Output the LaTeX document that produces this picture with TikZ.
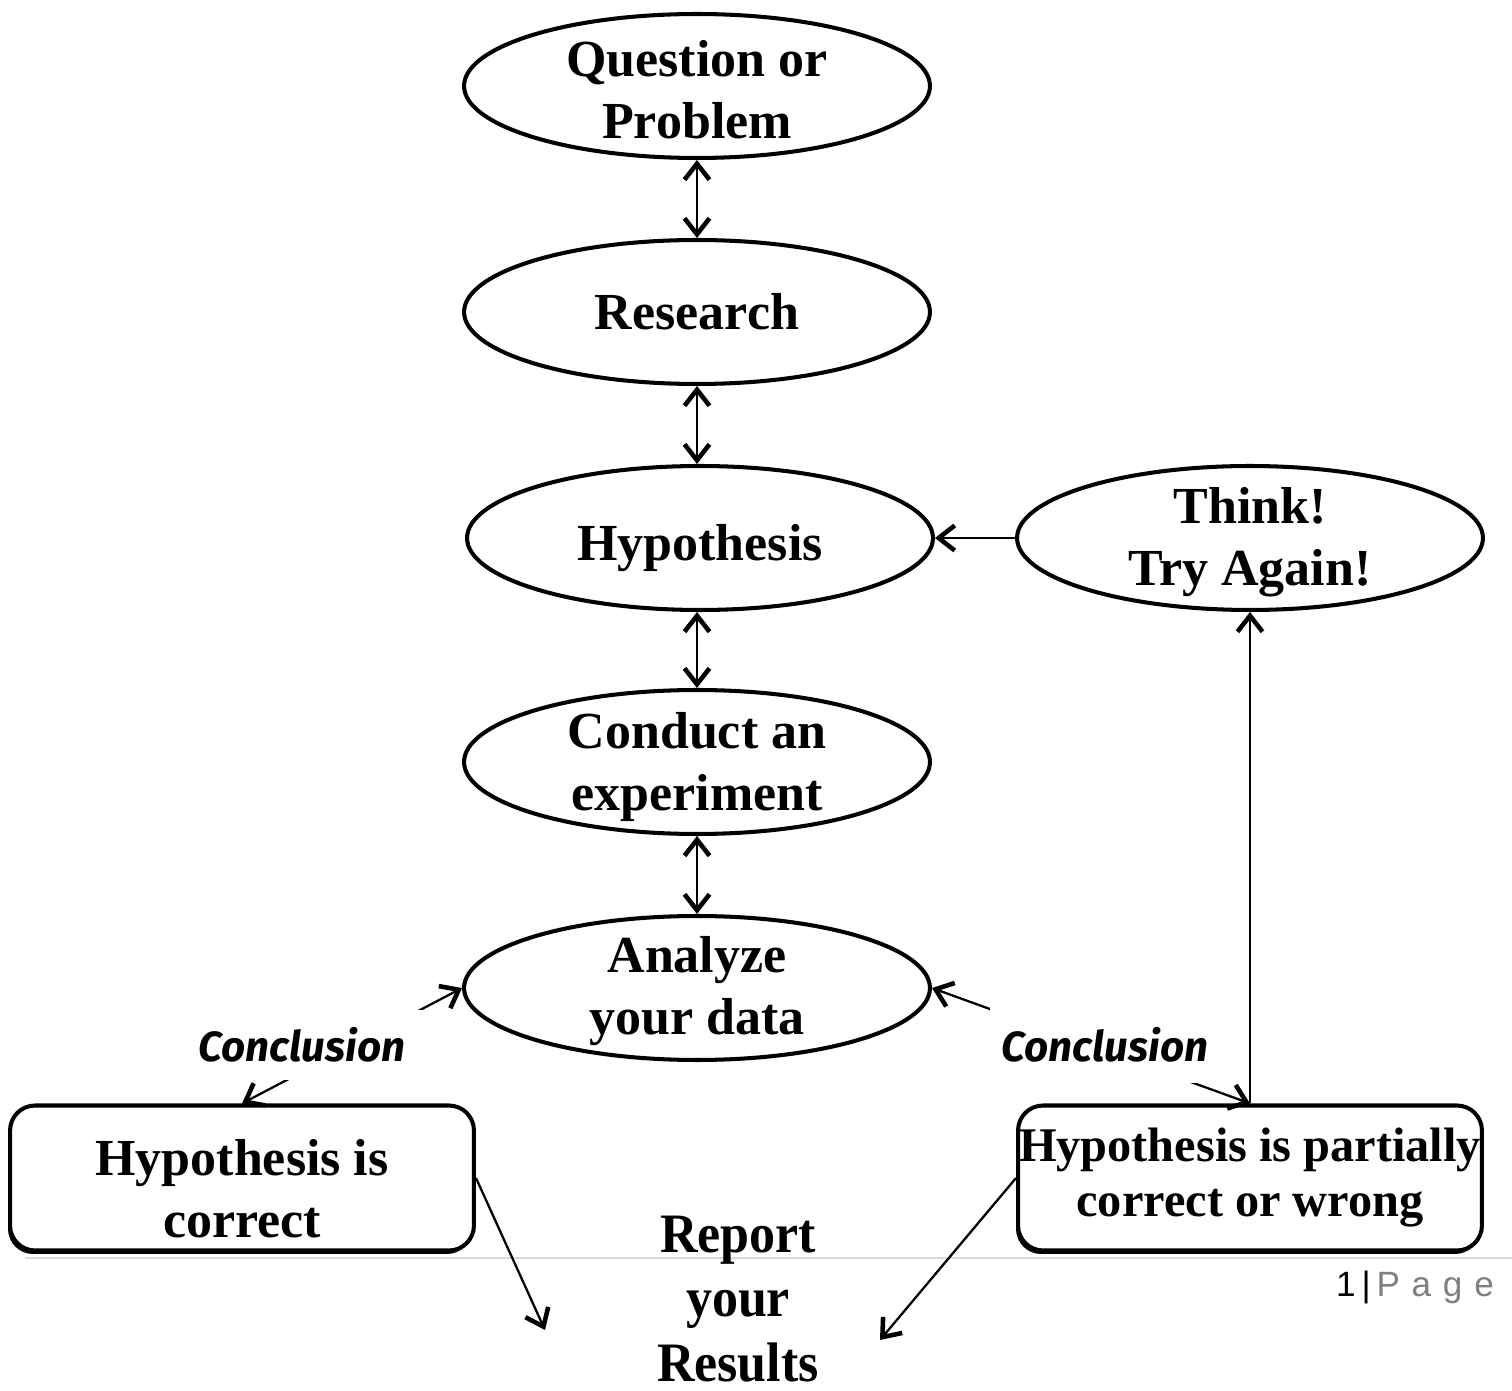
\documentclass[tikz,border=0pt]{standalone}
\usepackage{fontspec}
\setmainfont{Liberation Serif}
\newfontfamily\concfont{Fira Sans}
\newfontfamily\pagefont{Liberation Sans}
\usetikzlibrary{shapes.geometric,arrows.meta,shadows}
\newcommand\twoline[2]{\raisebox{#1}[0pt][0pt]{\parbox{6.2cm}{\centering #2}}}
\newcommand\oneline[2]{\raisebox{#1}[0pt][0pt]{#2}}
\begin{document}
\begin{tikzpicture}[x=0.02cm,y=-0.02cm,
  bubble/.style={ellipse,draw,line width=2.3pt,fill=white,inner sep=0pt,
    minimum width=9.32cm,minimum height=2.88cm,align=center,
    font=\bfseries\fontsize{29.6}{35.3}\selectfont},
  resbox/.style={rectangle,rounded corners=0.5cm,draw,line width=2.3pt,fill=white,
    minimum width=9.28cm,minimum height=2.9cm,align=center,
    drop shadow={shadow xshift=-0.04cm,shadow yshift=-0.07cm,fill=black,opacity=1},
    font=\bfseries\fontsize{29.6}{35.3}\selectfont},
  tip/.tip={Straight Barb[length=0.32cm,width=0.5cm,line width=2.6pt]},
  link/.style={line width=1.3pt,tip-tip},
  onelink/.style={line width=1.3pt,-tip},
  conc/.style={fill=white,inner sep=0pt,font=\concfont\bfseries\itshape\fontsize{24}{28}\selectfont}
]
\useasboundingbox (0,0) rectangle (1512,1391);
\draw[gray!30,line width=1.2pt] (25,1258) -- (1512,1258);

\node[bubble] (q) at (697,86) {\twoline{-0.3cm}{Question or\\Problem}};
\node[bubble] (r) at (697,312) {Research};
\node[bubble] (h) at (700,538) {\oneline{-0.45cm}{Hypothesis}};
\node[bubble] (c) at (697,762) {\twoline{-0.32cm}{Conduct an\\experiment}};
\node[bubble] (a) at (697,988) {\twoline{-0.28cm}{Analyze\\your data}};
\node[bubble] (t) at (1250,538) {\twoline{-0.31cm}{Think!\\Try Again!}};

\node[resbox] (lb) at (242,1178) {\raisebox{-0.43cm}[0pt][0pt]{\parbox{8cm}{\centering Hypothesis is\\correct}}};
\node[resbox,inner xsep=0pt,font=\bfseries\fontsize{27.5}{31.3}\selectfont] (rb) at (1250,1178) {Hypothesis is partially\\correct or wrong};

\node[align=center,inner sep=0pt,font=\bfseries\fontsize{29.6}{36.5}\selectfont] (rep) at (738,1299)
  {\scalebox{1}[1.07]{Report}\\\scalebox{1}[1.07]{your}\\\scalebox{1}[1.07]{Results}};
\coordinate (repl) at (545,1330);
\coordinate (repr) at (880,1340);

\draw[link] (q.south) -- (r.north);
\draw[link] (r.south) -- (r.south |- h.north);
\draw[link] (c.north |- h.south) -- (c.north);
\draw[link] (c.south) -- (a.north);
\draw[onelink] (t.west) -- (h.east);
\draw[onelink] (rb.north) -- (t.south);
\draw[link] (lb.north) -- (a.west);
\draw[link] (rb.north) -- (a.east);
\draw[onelink] (lb.east) -- (repl);
\draw[onelink] (rb.west) -- (repr);

\node[conc,minimum width=5.0cm,minimum height=1.4cm] (cl) at (302,1045) {Conclusion};
\node[conc,minimum width=4.6cm,minimum height=1.52cm] (cr) at (1105,1045) {Conclusion};

\node[anchor=east,font=\pagefont\fontsize{20}{22}\selectfont] (pg) at (1500,1287)
  {1\,|\,\textcolor{gray}{P\,\,a\,\,g\,\,e}};
\end{tikzpicture}
\end{document}
